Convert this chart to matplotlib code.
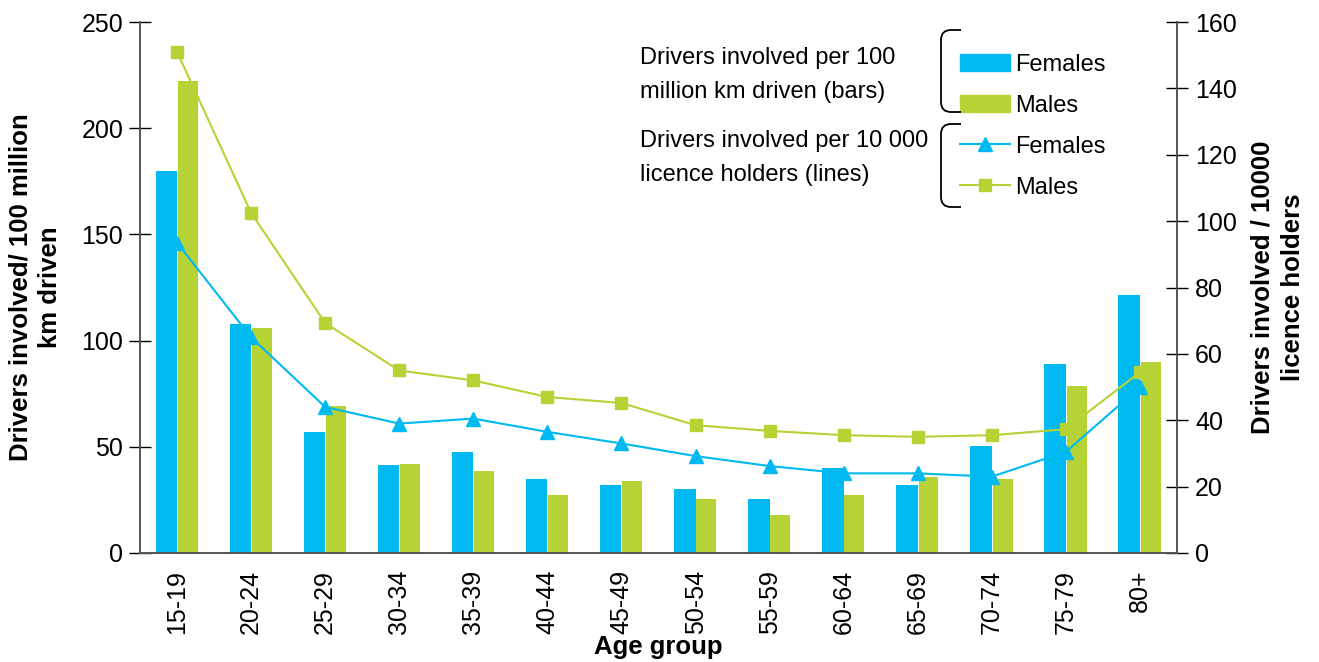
import numpy as np
import matplotlib.pyplot as plt
from matplotlib.patches import Patch, PathPatch
from matplotlib.lines import Line2D
from matplotlib.path import Path

plt.rcParams['font.family'] = ['Liberation Sans', 'DejaVu Sans']

ages = ["15-19", "20-24", "25-29", "30-34", "35-39", "40-44", "45-49",
        "50-54", "55-59", "60-64", "65-69", "70-74", "75-79", "80+"]

# drivers involved per 100 million km driven (bars, left axis)
km_females = [180, 108, 57, 41.5, 47.5, 35, 32, 30, 25.5, 40, 32, 50.5, 89, 121.5]
km_males = [222, 106, 69, 42, 38.5, 27.5, 34, 25.5, 18, 27.5, 36, 35, 78.5, 90]

# drivers involved per 10 000 licence holders (lines, right axis)
lic_females = [93.5, 65, 44, 39, 40.5, 36.5, 33, 29.2, 26.2, 24, 24, 23, 30.5, 50]
lic_males = [151, 102.5, 69.3, 55, 52, 47, 45.2, 38.5, 36.8, 35.5, 35, 35.5, 37.3, 54.5]

blue = "#00b9f1"
green = "#b5d334"
spine_col = "#555555"
tick_fs = 18
leg_fs = 17
lab_fs = 18.5

fig = plt.figure(figsize=(13.19, 6.62), dpi=100)
ax = fig.add_axes([140/1319, 1-553/662, (1177-140)/1319, (553-22)/662])
ax2 = ax.twinx()

x = np.arange(len(ages))
w = 0.29
ax.bar(x - w/2, km_females, width=w, color=blue)
ax.bar(x + w/2, km_males, width=w*0.93, color=green)

ax2.plot(x, lic_females, color=blue, marker="^", markersize=10, linewidth=1.5)
ax2.plot(x, lic_males, color=green, marker="s", markersize=8.5, linewidth=1.5)

ax.set_xlim(-0.5, len(ages) - 0.5)
ax.set_ylim(0, 250)
ax.set_yticks(range(0, 251, 50))
ax2.set_ylim(0, 160)
ax2.set_yticks(range(0, 161, 20))

ax.set_xticks(x)
ax.set_xticklabels(ages, rotation=90, fontsize=tick_fs)
ax.tick_params(axis="x", length=0, pad=12)
ax.tick_params(axis="y", direction="inout", length=16, width=1, color="black", labelsize=tick_fs, pad=4)
ax2.tick_params(axis="y", direction="inout", length=16, width=1, color="black", labelsize=tick_fs, pad=5)

for a in (ax, ax2):
    a.spines["top"].set_visible(False)
    for s in ("left", "right", "bottom"):
        a.spines[s].set_color(spine_col)
        a.spines[s].set_linewidth(1.2)

ax.set_xlabel("Age group", fontsize=lab_fs, fontweight="bold", labelpad=1)
ax.set_ylabel("Drivers involved/ 100 million\nkm driven", fontsize=lab_fs, fontweight="bold", labelpad=14,
              linespacing=1.3)
ax2.set_ylabel("Drivers involved / 10000\nlicence holders", fontsize=lab_fs, fontweight="bold", labelpad=10,
               rotation=90, linespacing=1.3)

handles = [Patch(color=blue), Patch(color=green),
           Line2D([], [], color=blue, marker="^", markersize=10, linewidth=1.5),
           Line2D([], [], color=green, marker="s", markersize=8.5, linewidth=1.5)]
leg = ax.legend(handles, ["Females", "Males", "Females", "Males"], loc="upper left",
                bbox_to_anchor=(960/1319, 1-54/662), bbox_transform=fig.transFigure,
                frameon=False, fontsize=leg_fs, handlelength=2.1, handleheight=0.75,
                labelspacing=0.8, handletextpad=0.25, borderaxespad=0, borderpad=0)
leg.set_zorder(5)

fig.text(640/1319, 1-75/662, "Drivers involved per 100\nmillion km driven (bars)",
         fontsize=leg_fs, va="center", ha="left", linespacing=1.65)
fig.text(640/1319, 1-158/662, "Drivers involved per 10 000\nlicence holders (lines)",
         fontsize=leg_fs, va="center", ha="left", linespacing=1.65)


def bracket(y0, y1, x0=941, x1=961, r=10):
    # left bracket with rounded ends, in pixel coords of the figure
    verts = [(x1, y0), (x0 + r, y0), (x0, y0), (x0, y0 + r),
             (x0, y1 - r), (x0, y1), (x0 + r, y1), (x1, y1)]
    codes = [Path.MOVETO, Path.LINETO, Path.CURVE3, Path.CURVE3,
             Path.LINETO, Path.CURVE3, Path.CURVE3, Path.LINETO]
    verts = [(vx / 1319, 1 - vy / 662) for vx, vy in verts]
    fig.add_artist(PathPatch(Path(verts, codes), transform=fig.transFigure,
                             fill=False, edgecolor="black", linewidth=1.3))


bracket(30, 112)
bracket(124, 207)

fig.savefig("out.png", dpi=100)
